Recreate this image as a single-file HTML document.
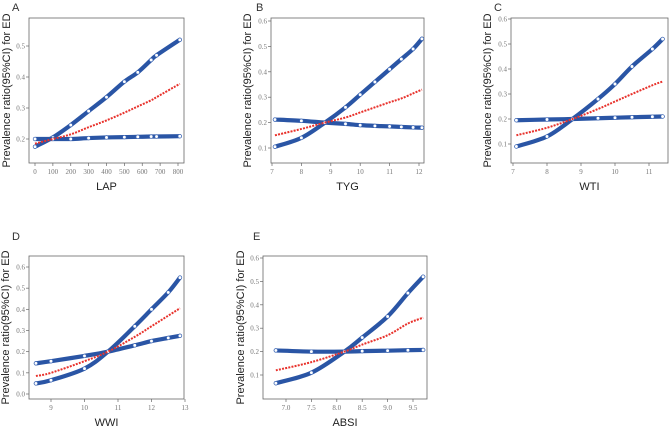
<!DOCTYPE html>
<html><head><meta charset="utf-8"><style>
body{margin:0;background:#fff;width:669px;height:428px;overflow:hidden}
svg{display:block}
.tk{font-family:"Liberation Serif",serif;font-size:7px;fill:#777}
.ttl{font-family:"Liberation Sans",sans-serif;font-size:11px;fill:#222}
.let{font-family:"Liberation Sans",sans-serif;font-size:11px;fill:#333}
</style></head><body>
<svg id="fig" width="669" height="428"></svg>
<script>
// Panel A (LAP)
const aX=[0,100,200,300,400,500,575,650,680,810];
const aUp=[0.175,0.205,0.245,0.29,0.335,0.385,0.415,0.455,0.47,0.52];
const aEst=[0.185,0.2,0.215,0.238,0.26,0.285,0.305,0.325,0.335,0.378];
const aLo=[0.2,0.2,0.2,0.203,0.205,0.206,0.207,0.208,0.208,0.209];
const aTicksX=[0,100,200,300,400,500,600,700,800];
const aTicksY=[0.2,0.3,0.4,0.5];
// Panel B (TYG)
const bX=[7.1,8,8.8,9.5,10,10.5,11,11.4,11.8,12.1];
const bUp=[0.105,0.14,0.2,0.26,0.31,0.36,0.41,0.45,0.49,0.53];
const bEst=[0.15,0.175,0.2,0.22,0.24,0.26,0.28,0.295,0.315,0.33];
const bLo=[0.212,0.207,0.2,0.195,0.19,0.187,0.185,0.183,0.181,0.18];
const bTicksX=[7,8,9,10,11,12];
const bTicksY=[0.1,0.2,0.3,0.4,0.5,0.6];
// Panel C (WTI)
const cX=[7.1,8,8.75,9.5,10,10.5,11.1,11.4];
const cUp=[0.09,0.13,0.2,0.28,0.34,0.41,0.48,0.52];
const cEst=[0.135,0.165,0.2,0.24,0.27,0.3,0.335,0.35];
const cLo=[0.195,0.198,0.2,0.203,0.205,0.207,0.209,0.21];
const cTicksX=[7,8,9,10,11];
const cTicksY=[0.1,0.2,0.3,0.4,0.5,0.6];
// Panel D (WWI)
const dX=[8.55,9,10,10.7,11.5,12,12.5,12.85];
const dUp=[0.05,0.065,0.12,0.2,0.32,0.4,0.48,0.55];
const dEst=[0.085,0.1,0.155,0.2,0.27,0.32,0.37,0.405];
const dLo=[0.145,0.155,0.18,0.2,0.23,0.25,0.265,0.275];
const dTicksX=[9,10,11,12,13];
const dTicksY=[0,0.1,0.2,0.3,0.4,0.5,0.6];
// Panel E (ABSI)
const eX=[6.8,7.5,8.15,8.5,9,9.4,9.7];
const eUp=[0.065,0.11,0.2,0.26,0.35,0.45,0.52];
const eEst=[0.12,0.155,0.2,0.23,0.27,0.32,0.345];
const eLo=[0.205,0.2,0.2,0.202,0.204,0.206,0.207];
const eTicksX=[7.0,7.5,8.0,8.5,9.0,9.5];
const eTicksY=[0.1,0.2,0.3,0.4,0.5,0.6];

const NS="http://www.w3.org/2000/svg";
const svg=document.getElementById('fig');
function mk(tag,at,parent){const e=document.createElementNS(NS,tag);for(const k in at)e.setAttribute(k,at[k]);(parent||svg).appendChild(e);return e;}
function smooth(pts){let d=`M${pts[0][0]},${pts[0][1]}`;for(let i=0;i<pts.length-1;i++){const p0=pts[Math.max(0,i-1)],p1=pts[i],p2=pts[i+1],p3=pts[Math.min(pts.length-1,i+2)];d+=` C${p1[0]+(p2[0]-p0[0])/6},${p1[1]+(p2[1]-p0[1])/6} ${p2[0]-(p3[0]-p1[0])/6},${p2[1]-(p3[1]-p1[1])/6} ${p2[0]},${p2[1]}`;}return d;}
function panel(L,xs,up,est,lo,tx,ty){
  const g=mk('g',{});
  
  
  const sx=v=>L.px0+(v-L.x0)*(L.px1-L.px0)/(L.x1-L.x0);
  const sy=v=>L.py0+(v-L.y0)*(L.py1-L.py0)/(L.y1-L.y0);
  const [bl,bt,br,bb]=L.box;
  const box=mk('rect',{x:bl,y:bt,width:br-bl,height:bb-bt,fill:'none',stroke:'#666','stroke-width':0.8},g);
  
  
  tx.forEach(v=>{const x=sx(v);mk('line',{x1:x,x2:x,y1:bb,y2:bb+3,stroke:'#666','stroke-width':0.7},g);
    const t=mk('text',{x:x,y:bb+11,'text-anchor':'middle',class:'tk'},g);t.textContent=L.fmtX(v);
    
    });
  ty.forEach(v=>{const y=sy(v);mk('line',{x1:bl-3,x2:bl,y1:y,y2:y,stroke:'#666','stroke-width':0.7},g);
    const t=mk('text',{x:bl-4,y:y+2.5,'text-anchor':'end',class:'tk'},g);t.textContent=v.toFixed(1);
    
    });
  [[up,'upper-ci'],[lo,'lower-ci']].forEach(([arr,nm])=>{
    const pts=xs.map((v,i)=>[sx(v),sy(arr[i])]);
    const p=mk('path',{d:smooth(pts),fill:'none',stroke:'#2a55a5','stroke-width':4.2,'stroke-linecap':'round'},g);
    
    
    pts.forEach(q=>{const c=mk('circle',{cx:q[0],cy:q[1],r:1.8,fill:'#fff',stroke:'#3a65b5','stroke-width':0.7},g);
      
      });
  });
  const ep=xs.map((v,i)=>[sx(v),sy(est[i])]);
  const r=mk('path',{d:smooth(ep),fill:'none',stroke:'#e8322c','stroke-width':2,'stroke-dasharray':'2 1.2'},g);
  
  
  const xt=mk('text',{x:(bl+br)/2,y:bb+27,'text-anchor':'middle',class:'ttl'},g);xt.textContent=L.xt;
  
  
  const cy=(bt+bb)/2;
  const yt=mk('text',{x:L.ytx,y:cy,'text-anchor':'middle',class:'ttl',transform:`rotate(-90 ${L.ytx} ${cy})`},g);yt.textContent='Prevalence ratio(95%CI) for ED';
  
  
  const lt=mk('text',{x:L.lx,y:L.ly,class:'let'},g);lt.textContent=L.id;
  
  
}
const f0=v=>String(v), f1=v=>v.toFixed(1);
panel({id:'A',box:[29,18,184,163],x0:0,x1:800,px0:35,px1:178,y0:0.2,y1:0.5,py0:139,py1:46,ytx:10,xt:'LAP',lx:12,ly:11,fmtX:f0},aX,aUp,aEst,aLo,aTicksX,aTicksY);
panel({id:'B',box:[271,18,424,163],x0:7,x1:12,px0:272,px1:419,y0:0.1,y1:0.6,py0:148,py1:21,ytx:251,xt:'TYG',lx:256,ly:11,fmtX:f0},bX,bUp,bEst,bLo,bTicksX,bTicksY);
panel({id:'C',box:[511,18,668,163],x0:7,x1:11,px0:513,px1:649,y0:0.1,y1:0.6,py0:144,py1:19,ytx:491,xt:'WTI',lx:494,ly:11,fmtX:f0},cX,cUp,cEst,cLo,cTicksX,cTicksY);
panel({id:'D',box:[29,256,184,399],x0:9,x1:13,px0:51,px1:185,y0:0,y1:0.6,py0:394,py1:267,ytx:9,xt:'WWI',lx:12,ly:240,fmtX:f0},dX,dUp,dEst,dLo,dTicksX,dTicksY);
panel({id:'E',box:[263,256,427,399],x0:7,x1:9.5,px0:286,px1:413,y0:0.1,y1:0.6,py0:375,py1:258,ytx:244,xt:'ABSI',lx:253,ly:240,fmtX:f1},eX,eUp,eEst,eLo,eTicksX,eTicksY);
</script>
</body></html>
